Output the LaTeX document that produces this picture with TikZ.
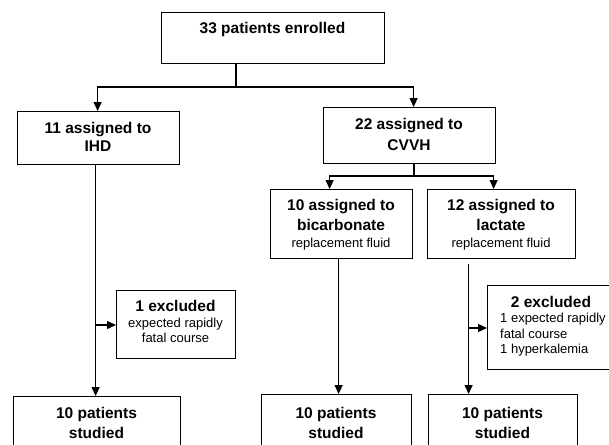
\documentclass[tikz,border=0pt]{standalone}
\usepackage{fontspec}
\setmainfont{Liberation Sans}
\usetikzlibrary{arrows.meta}
\begin{document}
\begin{tikzpicture}[x=1pt,y=-1pt,
  boxst/.style={draw, line width=1.2pt, rectangle, inner sep=0pt, anchor=north west},
  big/.style={font=\fontsize{15.5}{18}\selectfont\bfseries, inner sep=0pt, anchor=base},
  small/.style={font=\fontsize{13}{15}\selectfont, inner sep=0pt, anchor=base},
  smallw/.style={small, anchor=base west},
  conn/.style={line width=1.2pt},
  arr/.style={conn, -{Triangle[width=8pt,length=9pt]}}]
\useasboundingbox (0,0) rectangle (609,444);
\clip (0,0) rectangle (609,444);
% boxes
\node[boxst, minimum width=223pt, minimum height=51pt] (top) at (161,12) {};
\node[boxst, minimum width=162pt, minimum height=53pt] (A) at (17,111) {};
\node[boxst, minimum width=172pt, minimum height=56pt] (B) at (323,107) {};
\node[boxst, minimum width=142pt, minimum height=69pt] (C) at (270,189) {};
\node[boxst, minimum width=148pt, minimum height=69pt] (D) at (427,189) {};
\node[boxst, minimum width=119pt, minimum height=68pt] (E1) at (116,290) {};
\node[boxst, minimum width=130pt, minimum height=84pt] (E2) at (487,285) {};
\node[boxst, minimum width=167pt, minimum height=60pt] (F1) at (13,396) {};
\node[boxst, minimum width=150pt, minimum height=60pt] (F2) at (261,394) {};
\node[boxst, minimum width=149pt, minimum height=60pt] (F3) at (428,394) {};
% texts
\node[big] (t0) at (272.5,33.5) {33 patients enrolled};
\node[big] (ta1) at (98,133.5) {11 assigned to};
\node[big] (ta2) at (98,151.5) {IHD};
\node[big] (tb1) at (409,129.5) {22 assigned to};
\node[big] (tb2) at (409,150.5) {CVVH};
\node[big] (tc1) at (341,210.5) {10 assigned to};
\node[big] (tc2) at (341,230.5) {bicarbonate};
\node[small] (tc3) at (341,247) {replacement fluid};
\node[big] (td1) at (501,210.5) {12 assigned to};
\node[big] (td2) at (501,230.5) {lactate};
\node[small] (td3) at (501,247) {replacement fluid};
\node[big] (te1) at (175.5,311.5) {1 excluded};
\node[small] (te2) at (175.5,327) {expected rapidly};
\node[small] (te3) at (175.5,342.5) {fatal course};
\node[big] (tf1) at (551,307.5) {2 excluded};
\node[smallw] (tf2) at (500,322) {1 expected rapidly};
\node[smallw] (tf3) at (500,338) {fatal course};
\node[smallw] (tf4) at (500,353.5) {1 hyperkalemia};
\node[big] (tg1) at (96.5,418.5) {10 patients};
\node[big] (tg2) at (96.5,438.5) {studied};
\node[big] (th1) at (336,418.5) {10 patients};
\node[big] (th2) at (336,438.5) {studied};
\node[big] (ti1) at (502.5,418.5) {10 patients};
\node[big] (ti2) at (502.5,438.5) {studied};
% connectors
\coordinate (j1) at (236,87);
\draw[conn] (top.south -| j1) -- (j1);
\draw[arr] (j1) -| ([xshift=-1pt]A.north);
\draw[arr] (j1) -| ([xshift=4pt]B.north);
\coordinate (j2) at (414,176);
\draw[conn] (B.south -| j2) -- (j2);
\draw[arr] (j2) -| ([xshift=-12pt]C.north);
\draw[arr] (j2) -| ([xshift=-8pt]D.north);
\coordinate (aA) at ([xshift=-3pt]A.south);
\draw[arr] (aA) -- (aA |- F1.north);
\coordinate (l1) at (95,325);
\draw[arr] (l1) -- (l1 -| E1.west);
\coordinate (cC) at ([xshift=-3pt]C.south);
\draw[arr] (cC) -- (cC |- F2.north);
\coordinate (dD) at ([xshift=-33pt,yshift=-5pt]D.south);
\draw[arr] (dD) -- (dD |- F3.north);
\coordinate (l2) at (468,328);
\draw[arr] (l2) -- (l2 -| E2.west);
\end{tikzpicture}
\end{document}
